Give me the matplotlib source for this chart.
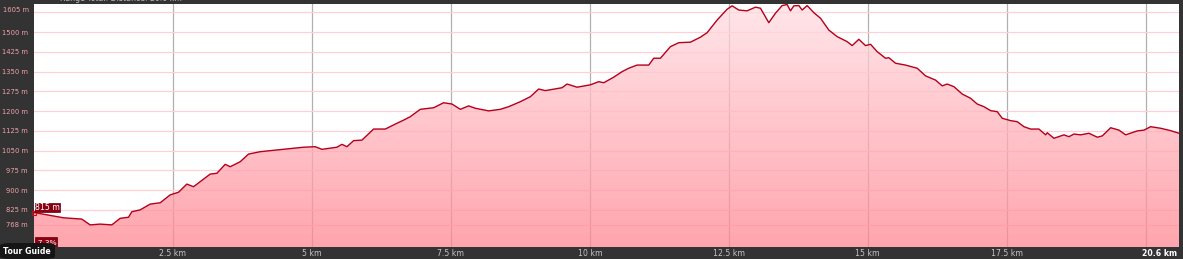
import numpy as np
import matplotlib
matplotlib.use("Agg")
import matplotlib.pyplot as plt
from matplotlib.patches import FancyBboxPatch, Rectangle

# ---------------- data ----------------
distance_km = [
    0.00, 0.53, 0.86, 1.01, 1.19, 1.40, 1.55, 1.70, 1.76, 1.91, 2.09, 2.27, 2.45,
    2.60, 2.75, 2.87, 3.17, 3.29, 3.44, 3.53, 3.71, 3.86, 4.07, 4.49, 4.85,
    5.06, 5.18, 5.45, 5.54, 5.63, 5.75, 5.90, 6.11, 6.32, 6.53, 6.65, 6.77, 6.95,
    7.19, 7.37, 7.52, 7.67, 7.82, 7.94, 8.18, 8.39, 8.54, 8.75, 8.93, 9.08, 9.20,
    9.50, 9.59, 9.77,
    10.01, 10.16, 10.25, 10.43, 10.58, 10.70, 10.85, 11.06, 11.15, 11.27, 11.45,
    11.60, 11.81, 11.99, 12.11, 12.29, 12.47, 12.56, 12.68, 12.83, 12.98, 13.07,
    13.22, 13.34, 13.46, 13.55, 13.61, 13.67, 13.76, 13.82, 13.91, 14.03, 14.15,
    14.30, 14.45, 14.63, 14.72, 14.84, 14.96, 15.05, 15.17, 15.32, 15.38,
    15.50, 15.68, 15.89, 16.04, 16.22, 16.34, 16.43, 16.55, 16.70, 16.85, 16.97,
    17.09, 17.21, 17.33, 17.42, 17.57, 17.69, 17.81, 17.93, 18.08, 18.20, 18.23,
    18.35, 18.53, 18.62, 18.71, 18.83, 18.98, 19.13, 19.22, 19.37, 19.52, 19.64,
    19.85, 19.97, 20.09, 20.27, 20.45, 20.60,
]
elevation_m = [
    815, 795, 790, 768, 771, 768, 793, 797, 818, 825, 847, 852, 882,
    892, 923, 913, 961, 964, 998, 989, 1008, 1037, 1046, 1055, 1063,
    1065, 1055, 1063, 1074, 1065, 1088, 1090, 1132, 1132, 1154, 1166, 1179, 1207,
    1213, 1232, 1227, 1207, 1220, 1211, 1201, 1207, 1217, 1236, 1255, 1284, 1278,
    1289, 1303, 1291,
    1300, 1312, 1308, 1329, 1350, 1363, 1375, 1375, 1401, 1401, 1445,
    1460, 1462, 1481, 1498, 1546, 1587, 1600, 1584, 1581, 1595, 1591,
    1536, 1572, 1601, 1605, 1581, 1600, 1601, 1584, 1601, 1574, 1553,
    1508, 1483, 1464, 1449, 1473, 1449, 1454, 1426, 1401, 1403,
    1382, 1375, 1363, 1334, 1318, 1296, 1303, 1293, 1265, 1249, 1227,
    1217, 1202, 1198, 1173, 1164, 1160, 1141, 1132, 1132, 1110, 1118,
    1097, 1110, 1103, 1113, 1110, 1116, 1101, 1106, 1137, 1128, 1110,
    1125, 1128, 1141, 1135, 1126, 1116,
]
y_tick_values = [768, 825, 900, 975, 1050, 1125, 1200, 1275, 1350, 1425, 1500, 1575]
y_tick_labels = ["768 m", "825 m", "900 m", "975 m", "1050 m", "1125 m", "1200 m",
                 "1275 m", "1350 m", "1425 m", "1500 m", ""]
top_label = "1605 m"
x_tick_values = [2.5, 5, 7.5, 10, 12.5, 15, 17.5, 20]
x_tick_labels = ["2.5 km", "5 km", "7.5 km", "10 km", "12.5 km", "15 km", "17.5 km", ""]
end_label = "20.6 km"
start_label = "815 m"
grade_label = "-7.3%"
header_text = "Range Total: Distance: 20.6 km"
total_km = 20.6

# ---------------- figure ----------------
W, H = 1183, 259
fig = plt.figure(figsize=(W / 100, H / 100), dpi=100, facecolor="#333333")

def fx(x):
    return x / W

def fy(y):
    return 1 - y / H

ax_l, ax_r, ax_t, ax_b = 34, 1179, 4, 247
ax = fig.add_axes([fx(ax_l), fy(ax_b), (ax_r - ax_l) / W, (ax_b - ax_t) / H])
ax.set_facecolor("white")
ylo, yhi = 684, 1607
ax.set_xlim(0, total_km)
ax.set_ylim(ylo, yhi)
for s in ax.spines.values():
    s.set_visible(False)

lab_fs = 4.9
ax.set_axisbelow(True)
ax.set_yticks(y_tick_values)
ax.set_yticklabels(y_tick_labels)
ax.set_xticks(x_tick_values)
ax.set_xticklabels([""] * len(x_tick_values))
ax.tick_params(axis="y", length=0, pad=4.5, labelcolor="#f2a2aa", labelsize=lab_fs)
ax.tick_params(axis="x", length=0)
ax.yaxis.grid(True, color="#ffd0d7", lw=0.9)
ax.xaxis.grid(True, color="#b0b0b0", lw=0.9)

# gradient fill under the profile
n = 256
t = np.linspace(0, 1, n).reshape(-1, 1)
bottom_c = np.array([255, 135, 146]) / 255
top_c = np.array([255, 222, 227]) / 255
rgb = bottom_c + (top_c - bottom_c) * t
img = np.dstack([rgb[:, 0:1], rgb[:, 1:2], rgb[:, 2:3], np.ones((n, 1))])
poly = ax.fill_between(distance_km, elevation_m, ylo, facecolor="none", edgecolor="none")
im = ax.imshow(img, origin="lower", extent=[0, total_km, ylo, yhi], aspect="auto",
               alpha=0.75, zorder=1, interpolation="bilinear")
im.set_clip_path(poly.get_paths()[0], transform=ax.transData)

ax.plot(distance_km, elevation_m, color="#b4001c", lw=1.0, zorder=3,
        solid_joinstyle="round")
ax.plot([distance_km[0]], [elevation_m[0]], marker="s", ms=3.2, mfc="none",
        mec="#e0001c", mew=0.8, zorder=4, clip_on=False)

# top y label
fig.text(fx(29), fy(9.5), top_label, ha="right", va="center", fontsize=lab_fs,
         color="#f2a2aa")

# start elevation label box
fig.patches.append(Rectangle((fx(35), fy(212)), 25 / W, 9 / H, transform=fig.transFigure,
                             facecolor="#8c0012", edgecolor="#5a0008", lw=0.5, zorder=5))
fig.text(fx(47.5), fy(207.5), start_label, ha="center", va="center", fontsize=5.6,
         color="white", zorder=6)
# grade label box (partly hidden by bottom bar)
fig.patches.append(Rectangle((fx(35), fy(247)), 22 / W, 10 / H, transform=fig.transFigure,
                             facecolor="#8c0012", edgecolor="#5a0008", lw=0.5, zorder=5))
fig.text(fx(46), fy(243), grade_label, ha="center", va="center", fontsize=5.4,
         color="white", zorder=6)
# bottom bar overlay
fig.patches.append(Rectangle((fx(34), 0), (ax_r - 34) / W, (H - 247) / H,
                             transform=fig.transFigure, facecolor="#333333",
                             edgecolor="none", zorder=7))
# x labels in the bottom bar
for v, lab in zip(x_tick_values, x_tick_labels):
    if lab:
        fig.text(fx(ax_l + v / total_km * (ax_r - ax_l)), fy(253), lab, ha="center",
                 va="center", fontsize=5.6, color="#c4c4c4", zorder=8)
fig.text(fx(1177), fy(253), end_label, ha="right", va="center", fontsize=5.6,
         color="white", fontweight="bold", zorder=8)

# Tour Guide tab
fig.patches.append(FancyBboxPatch((fx(0), 0), 55 / W, 16 / H,
                                  boxstyle="round,pad=0,rounding_size=0.01",
                                  transform=fig.transFigure, facecolor="#151515",
                                  edgecolor="none", zorder=9))
fig.text(fx(27), fy(252), "Tour Guide", ha="center", va="center", fontsize=5.6,
         color="white", fontweight="bold", zorder=10)

# top bar (mostly cut off by the image edge)
fig.text(fx(60), fy(1.2), header_text, ha="left", va="baseline",
         fontsize=5.6, color="#bbbbbb")

fig.savefig("out.png", dpi=100, facecolor=fig.get_facecolor())
